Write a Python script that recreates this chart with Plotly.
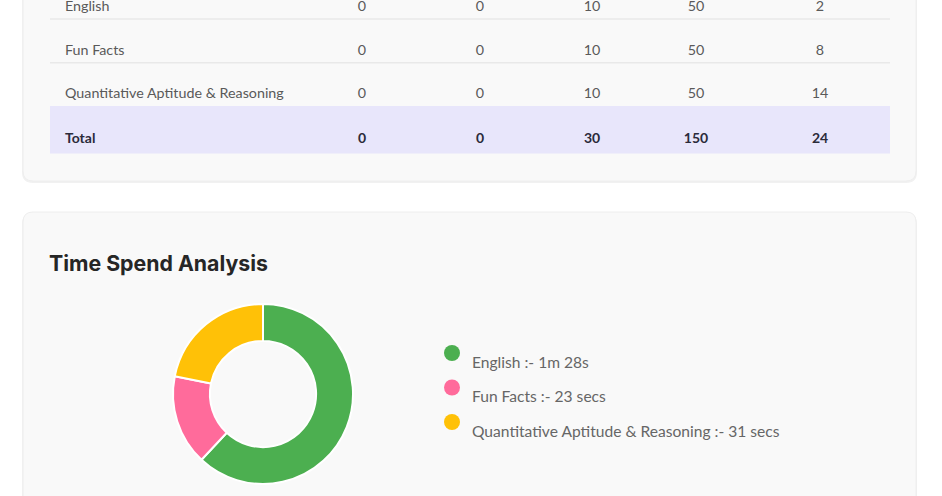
import plotly.graph_objects as go

# ---------------- data ----------------
subjects = ["English", "Fun Facts", "Quantitative Aptitude & Reasoning"]
col_a = [0, 0, 0]
col_b = [0, 0, 0]
col_c = [10, 10, 10]
col_d = [50, 50, 50]
col_e = [2, 8, 14]
total_label = "Total"

time_subjects = ["English", "Fun Facts", "Quantitative Aptitude & Reasoning"]
time_seconds = [88, 23, 31]
time_labels = ["1m 28s", "23 secs", "31 secs"]
chart_title = "Time Spend Analysis"

# ---------------- layout constants ----------------
W, H = 942, 496
SLICE_COLORS = ["#4caf50", "#ff6b9b", "#ffc107"]
COL_X = [65, 362, 480, 592, 696, 820]
ROW_Y0, ROW_H = 7.5, 43.7
TABLE_X0, TABLE_X1 = 50, 890
TXT = "#5a5a5a"
FONT = "Lato, 'Open Sans', sans-serif"

fig = go.Figure()


def rrect(x0, y0, x1, y1, r):
    return (f"M {x0+r},{y0} L {x1-r},{y0} Q {x1},{y0} {x1},{y0+r} "
            f"L {x1},{y1-r} Q {x1},{y1} {x1-r},{y1} L {x0+r},{y1} "
            f"Q {x0},{y1} {x0},{y1-r} L {x0},{y0+r} Q {x0},{y0} {x0+r},{y0} Z")


shapes = []
# cards (soft shadow + card)
for (y0, y1) in [(-40, 181), (212, 540)]:
    shapes.append(dict(type="path", path=rrect(22, y0 + 1, 917, y1 + 2, 11),
                       xref="x", yref="y", fillcolor="#f1f1f1",
                       line=dict(width=0), layer="below"))
    shapes.append(dict(type="path", path=rrect(23, y0, 916, y1, 10),
                       xref="x", yref="y", fillcolor="#f9f9f9",
                       line=dict(color="#eeeeee", width=1), layer="below"))

row_y = [ROW_Y0 + i * ROW_H for i in range(len(subjects))]
total_y = ROW_Y0 + len(subjects) * ROW_H + 0.5

# separators between rows
for y in row_y[:-1]:
    shapes.append(dict(type="line", x0=TABLE_X0, x1=TABLE_X1, y0=y + 11.5, y1=y + 11.5,
                       xref="x", yref="y", line=dict(color="#e9e9e9", width=1.5),
                       layer="below"))
# total band
shapes.append(dict(type="rect", x0=TABLE_X0, x1=TABLE_X1, y0=row_y[-1] + 11,
                   y1=total_y + 14.5, xref="x", yref="y", fillcolor="#e8e6fb",
                   line=dict(width=0), layer="below"))

# table body
fig.add_trace(go.Scatter(x=[COL_X[0]] * len(subjects), y=row_y, text=subjects,
                         mode="text", textposition="middle right",
                         textfont=dict(family=FONT, size=14.3, color=TXT),
                         hoverinfo="skip", showlegend=False, cliponaxis=False))
for ci, col in enumerate([col_a, col_b, col_c, col_d, col_e], start=1):
    fig.add_trace(go.Scatter(x=[COL_X[ci]] * len(col), y=row_y,
                             text=[str(v) for v in col], mode="text",
                             textposition="middle center",
                             textfont=dict(family=FONT, size=14.3, color=TXT),
                             hoverinfo="skip", showlegend=False, cliponaxis=False))

# total row
totals = [sum(c) for c in [col_a, col_b, col_c, col_d, col_e]]
fig.add_trace(go.Scatter(x=[COL_X[0]], y=[total_y], text=[total_label], mode="text",
                         textposition="middle right",
                         textfont=dict(family=FONT, size=14, color="#2b2b3a", weight=700),
                         hoverinfo="skip", showlegend=False, cliponaxis=False))
fig.add_trace(go.Scatter(x=COL_X[1:], y=[total_y] * len(totals),
                         text=[str(v) for v in totals], mode="text",
                         textposition="middle center",
                         textfont=dict(family=FONT, size=14, color="#2b2b3a", weight=700),
                         hoverinfo="skip", showlegend=False, cliponaxis=False))

# title
fig.add_trace(go.Scatter(x=[49], y=[266], text=[chart_title], mode="text",
                         textposition="middle right",
                         textfont=dict(family="Inter, sans-serif", size=21.3,
                                       color="#262626", weight=700),
                         hoverinfo="skip", showlegend=False, cliponaxis=False))

# donut
cx, cy, R = 263, 394, 90
fig.add_trace(go.Pie(values=time_seconds, labels=time_subjects, sort=False,
                     direction="clockwise", rotation=0, hole=0.59,
                     marker=dict(colors=SLICE_COLORS, line=dict(color="white", width=2)),
                     textinfo="none", showlegend=False,
                     domain=dict(x=[(cx - R) / W, (cx + R) / W],
                                 y=[1 - (cy + R) / H, 1 - (cy - R) / H])))

# custom legend
leg_y = [353 + i * 34.5 for i in range(len(time_subjects))]
fig.add_trace(go.Scatter(x=[452] * len(time_subjects), y=leg_y, mode="markers",
                         marker=dict(size=16, color=SLICE_COLORS),
                         hoverinfo="skip", showlegend=False, cliponaxis=False))
fig.add_trace(go.Scatter(x=[472] * len(time_subjects), y=[v + 11 for v in leg_y],
                         text=[f"{s} :- {t}" for s, t in zip(time_subjects, time_labels)],
                         mode="text", textposition="middle right",
                         textfont=dict(family=FONT, size=15.6, color="#666666"),
                         hoverinfo="skip", showlegend=False, cliponaxis=False))

fig.update_layout(
    width=W, height=H, margin=dict(l=0, r=0, t=0, b=0),
    paper_bgcolor="white", plot_bgcolor="white",
    xaxis=dict(range=[0, W], visible=False, fixedrange=True),
    yaxis=dict(range=[H, 0], visible=False, fixedrange=True),
    shapes=shapes, showlegend=False,
)

fig.write_html("out.html")
